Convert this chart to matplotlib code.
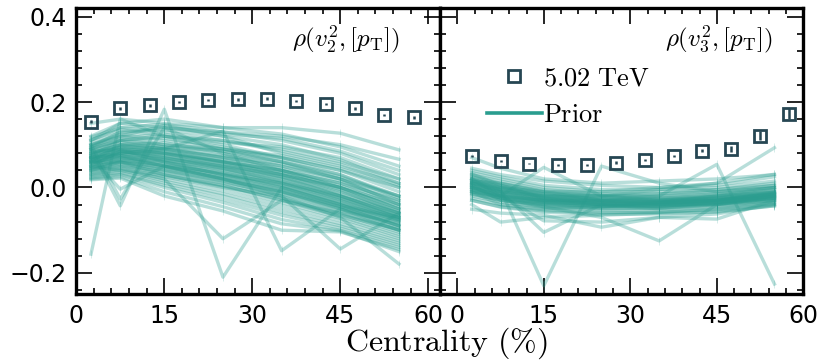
import matplotlib
matplotlib.use('Agg')
import matplotlib.pyplot as plt
from matplotlib.ticker import MultipleLocator
from matplotlib.lines import Line2D
import numpy as np

plt.rcParams['mathtext.fontset'] = 'cm'
plt.rcParams['font.family'] = ['DejaVu Sans']

# ---------------- data ----------------
cent_data = [2.5, 7.5, 12.5, 17.5, 22.5, 27.5, 32.5, 37.5, 42.5, 47.5, 52.5, 57.5]
rho2_data = [0.154, 0.185, 0.192, 0.200, 0.205, 0.206, 0.208, 0.202, 0.195, 0.185, 0.170, 0.164]
rho2_err = [0.003, 0.003, 0.003, 0.003, 0.003, 0.003, 0.003, 0.003, 0.003, 0.003, 0.003, 0.003]
rho3_data = [0.074, 0.062, 0.056, 0.053, 0.053, 0.058, 0.064, 0.074, 0.086, 0.091, 0.121, 0.173]
rho3_err = [0.002, 0.002, 0.002, 0.002, 0.002, 0.003, 0.003, 0.003, 0.004, 0.007, 0.010, 0.013]

cent_model = [2.5, 7.5, 15, 25, 35, 45, 55]
prior_err = [0.010, 0.010, 0.010, 0.010, 0.010, 0.010, 0.010]

prior_rho2 = [
    [0.150, 0.160, 0.150, 0.140, 0.140, 0.127, 0.088],
    [0.120, 0.150, 0.140, 0.130, 0.120, 0.100, 0.066],
    [0.110, 0.140, 0.130, 0.110, 0.090, 0.060, 0.020],
    [0.100, 0.120, 0.145, 0.120, 0.080, 0.050, 0.010],
    [0.090, 0.110, 0.100, 0.090, 0.070, 0.040, 0.000],
    [0.080, 0.100, 0.090, 0.070, 0.050, 0.020, -0.020],
    [0.070, 0.090, 0.080, 0.060, 0.040, 0.010, -0.030],
    [0.060, 0.080, 0.070, 0.050, 0.030, 0.000, -0.040],
    [0.118, 0.140, 0.148, 0.130, 0.110, 0.080, 0.030],
    [0.112, 0.135, 0.120, 0.105, 0.095, 0.070, 0.020],
    [0.105, 0.128, 0.135, 0.120, 0.100, 0.065, 0.010],
    [0.100, 0.125, 0.110, 0.090, 0.075, 0.045, 0.000],
    [0.098, 0.118, 0.125, 0.100, 0.070, 0.040, -0.010],
    [0.095, 0.120, 0.100, 0.085, 0.060, 0.030, -0.020],
    [0.092, 0.110, 0.095, 0.075, 0.055, 0.020, -0.030],
    [0.090, 0.112, 0.115, 0.095, 0.068, 0.030, -0.025],
    [0.088, 0.105, 0.090, 0.070, 0.040, 0.010, -0.040],
    [0.085, 0.100, 0.105, 0.080, 0.050, 0.015, -0.035],
    [0.082, 0.098, 0.085, 0.060, 0.030, 0.000, -0.050],
    [0.080, 0.095, 0.092, 0.072, 0.045, 0.005, -0.045],
    [0.078, 0.092, 0.080, 0.055, 0.025, -0.010, -0.055],
    [0.075, 0.090, 0.088, 0.065, 0.035, -0.005, -0.060],
    [0.072, 0.088, 0.075, 0.048, 0.020, -0.020, -0.065],
    [0.070, 0.085, 0.070, 0.045, 0.015, -0.025, -0.070],
    [0.068, 0.082, 0.078, 0.058, 0.030, -0.015, -0.060],
    [0.066, 0.080, 0.065, 0.040, 0.010, -0.030, -0.075],
    [0.064, 0.078, 0.068, 0.050, 0.022, -0.020, -0.068],
    [0.062, 0.075, 0.060, 0.035, 0.005, -0.035, -0.080],
    [0.060, 0.072, 0.058, 0.030, 0.000, -0.040, -0.085],
    [0.058, 0.070, 0.062, 0.042, 0.012, -0.028, -0.072],
    [0.055, 0.068, 0.050, 0.025, -0.005, -0.045, -0.090],
    [0.053, 0.065, 0.055, 0.032, 0.002, -0.038, -0.078],
    [0.050, 0.062, 0.045, 0.020, -0.012, -0.050, -0.095],
    [0.048, 0.060, 0.040, 0.015, -0.020, -0.058, -0.100],
    [0.046, 0.058, 0.048, 0.022, -0.008, -0.048, -0.088],
    [0.044, 0.055, 0.035, 0.010, -0.025, -0.062, -0.105],
    [0.042, 0.052, 0.030, 0.005, -0.030, -0.068, -0.110],
    [0.040, 0.050, 0.038, 0.012, -0.015, -0.055, -0.082],
    [0.038, 0.048, 0.025, 0.000, -0.035, -0.072, -0.115],
    [0.035, 0.045, 0.020, -0.008, -0.042, -0.078, -0.120],
    [0.032, 0.042, 0.028, 0.004, -0.028, -0.065, -0.098],
    [0.030, 0.040, 0.015, -0.015, -0.050, -0.085, -0.125],
    [0.028, 0.035, 0.010, -0.020, -0.058, -0.090, -0.130],
    [0.025, 0.032, 0.005, -0.028, -0.065, -0.095, -0.135],
    [0.022, 0.030, 0.000, -0.035, -0.075, -0.100, -0.140],
    [0.020, 0.025, -0.010, -0.045, -0.085, -0.102, -0.150],
    [0.018, 0.022, -0.020, -0.055, -0.100, -0.104, -0.145],
    [0.110, 0.150, 0.160, 0.140, 0.125, 0.095, 0.050],
    [0.095, 0.130, 0.140, 0.125, 0.115, 0.085, 0.040],
    [0.075, 0.110, 0.120, 0.110, 0.085, 0.055, 0.005],
    [0.062, 0.100, 0.095, 0.085, 0.060, 0.025, -0.020],
    [0.050, 0.085, 0.080, 0.060, 0.040, 0.000, -0.050],
    [0.085, 0.088, 0.060, 0.030, 0.010, -0.020, -0.060],
    [0.070, 0.075, 0.050, 0.028, -0.002, -0.042, -0.070],
    [0.058, 0.060, 0.042, 0.018, -0.010, -0.045, -0.075],
    [0.076, 0.094, 0.082, 0.062, 0.032, -0.008, -0.058],
    [0.066, 0.084, 0.072, 0.052, 0.024, -0.018, -0.066],
    [0.056, 0.074, 0.064, 0.044, 0.014, -0.026, -0.070],
    [0.046, 0.064, 0.052, 0.034, 0.006, -0.034, -0.076],
    [-0.156, 0.160, 0.120, 0.090, 0.060, 0.020, -0.040],
    [0.090, -0.043, 0.183, -0.210, 0.000, -0.040, -0.090],
    [0.050, 0.040, 0.020, -0.120, -0.030, -0.060, -0.100],
    [0.070, 0.080, 0.090, 0.132, -0.148, -0.050, -0.100],
    [0.040, 0.060, 0.030, 0.000, -0.020, -0.144, -0.060],
    [0.060, 0.070, 0.050, 0.020, -0.020, -0.070, -0.179],
    [0.100, -0.027, 0.140, 0.080, 0.040, 0.000, -0.050],
    [0.070, -0.004, 0.050, 0.020, -0.010, -0.050, -0.090],
]

prior_rho3 = [
    [0.070, 0.045, 0.020, 0.010, 0.015, 0.020, 0.030],
    [0.040, 0.025, 0.005, -0.005, -0.005, 0.000, 0.015],
    [0.035, 0.020, 0.000, -0.010, -0.010, -0.005, 0.010],
    [0.030, 0.015, -0.005, -0.015, -0.015, -0.010, 0.005],
    [0.028, 0.010, -0.008, -0.018, -0.020, -0.012, 0.000],
    [0.025, 0.008, -0.012, -0.020, -0.022, -0.015, -0.002],
    [0.022, 0.005, -0.015, -0.022, -0.024, -0.018, -0.005],
    [0.020, 0.002, -0.018, -0.025, -0.026, -0.020, -0.008],
    [0.018, 0.000, -0.020, -0.027, -0.028, -0.022, -0.010],
    [0.015, -0.002, -0.022, -0.029, -0.030, -0.024, -0.012],
    [0.012, -0.005, -0.024, -0.031, -0.031, -0.026, -0.014],
    [0.010, -0.007, -0.026, -0.032, -0.032, -0.027, -0.015],
    [0.008, -0.009, -0.027, -0.033, -0.033, -0.028, -0.016],
    [0.006, -0.011, -0.028, -0.034, -0.034, -0.029, -0.017],
    [0.004, -0.013, -0.029, -0.035, -0.035, -0.030, -0.018],
    [0.002, -0.015, -0.030, -0.036, -0.036, -0.031, -0.020],
    [0.000, -0.017, -0.031, -0.037, -0.037, -0.032, -0.022],
    [-0.002, -0.019, -0.032, -0.038, -0.038, -0.033, -0.023],
    [-0.005, -0.021, -0.034, -0.040, -0.040, -0.035, -0.025],
    [-0.008, -0.023, -0.036, -0.042, -0.042, -0.037, -0.027],
    [-0.010, -0.025, -0.038, -0.044, -0.044, -0.039, -0.029],
    [-0.013, -0.027, -0.040, -0.046, -0.046, -0.041, -0.031],
    [-0.016, -0.030, -0.043, -0.049, -0.049, -0.044, -0.034],
    [-0.020, -0.034, -0.047, -0.053, -0.053, -0.048, -0.037],
    [-0.025, -0.040, -0.052, -0.058, -0.058, -0.052, -0.040],
    [-0.030, -0.046, -0.058, -0.063, -0.062, -0.056, -0.043],
    [0.045, 0.030, 0.015, 0.005, 0.000, 0.005, 0.025],
    [0.032, 0.005, -0.025, -0.040, -0.045, -0.035, -0.020],
    [0.015, 0.010, -0.010, -0.030, -0.040, -0.040, -0.030],
    [-0.010, -0.040, -0.050, -0.045, -0.035, -0.020, 0.000],
    [0.005, -0.030, -0.045, -0.050, -0.048, -0.038, -0.025],
    [-0.030, -0.045, -0.055, -0.060, -0.058, -0.050, -0.035],
    [-0.040, -0.081, -0.070, -0.065, -0.060, -0.058, -0.043],
    [0.020, -0.020, -0.078, -0.081, -0.070, -0.062, -0.040],
    [-0.051, -0.060, -0.065, -0.093, -0.070, -0.074, -0.030],
    [0.010, -0.010, -0.105, -0.040, -0.050, -0.040, -0.025],
    [0.010, -0.005, -0.230, 0.050, 0.010, -0.010, 0.000],
    [0.000, -0.020, 0.047, -0.020, -0.030, -0.020, -0.010],
    [-0.005, -0.025, -0.045, -0.070, -0.125, -0.040, -0.020],
    [-0.010, -0.020, -0.030, -0.030, -0.020, 0.054, -0.226],
    [0.000, -0.010, -0.020, -0.020, -0.005, 0.010, 0.093],
    [0.010, 0.000, -0.010, -0.010, 0.000, 0.010, 0.031],
    [0.020, 0.000, -0.015, -0.020, -0.015, -0.005, 0.005],
    [-0.015, -0.030, -0.040, -0.045, -0.040, -0.030, -0.015],
    [0.000, -0.020, -0.035, -0.040, -0.038, -0.030, -0.012],
    [0.012, -0.008, -0.022, -0.030, -0.034, -0.030, -0.018],
    [0.004, -0.016, -0.032, -0.040, -0.041, -0.035, -0.021],
    [-0.006, -0.024, -0.037, -0.043, -0.043, -0.036, -0.024],
    [0.016, -0.004, -0.019, -0.028, -0.029, -0.025, -0.011],
]

labels = [r'$\rho(v_2^2,[p_{\mathrm{T}}])$', r'$\rho(v_3^2,[p_{\mathrm{T}}])$']

# ---------------- style ----------------
C_LINE = '#2a9d8f'
C_DATA = '#264653'

fig = plt.figure(figsize=(8.22, 3.62), dpi=100)
W, H = 822.0, 362.0
bottom = 1 - 294.3 / H
height = (294.3 - 8.0) / H
ax1 = fig.add_axes([76.3 / W, bottom, 363.7 / W, height])
ax2 = fig.add_axes([440.0 / W, bottom, 363.3 / W, height], sharey=ax1)

for ax, prior, cd, rd, re_, lab, lx in [
        (ax1, prior_rho2, cent_data, rho2_data, rho2_err, labels[0], 0.89),
        (ax2, prior_rho3, cent_data, rho3_data, rho3_err, labels[1], 0.917)]:
    for curve in prior:
        ax.errorbar(cent_model, curve, yerr=prior_err, color=C_LINE, alpha=0.33,
                    lw=2.4, elinewidth=0.4, capsize=0, zorder=2)
    ax.errorbar(cd, rd, yerr=re_, fmt='s', ms=8.8, mfc='none', mec=C_DATA, mew=2.0,
                ecolor=C_DATA, elinewidth=1.8, capsize=0, zorder=5, clip_on=False)
    ax.text(lx, 0.89, lab, transform=ax.transAxes, ha='right', va='center', fontsize=18)
    ax.xaxis.set_major_locator(MultipleLocator(15))
    ax.xaxis.set_minor_locator(MultipleLocator(3))
    ax.yaxis.set_major_locator(MultipleLocator(0.2))
    ax.yaxis.set_minor_locator(MultipleLocator(0.04))
    ax.tick_params(which='both', direction='in', top=True, right=True, width=1.2)
    ax.tick_params(which='major', length=11.5, labelsize=17, pad=7)
    ax.tick_params(which='minor', length=4.5)
    for s in ax.spines.values():
        s.set_linewidth(2.4)

ax1.set_xlim(0, 62)
ax2.set_xlim(-3, 60)
ax1.set_ylim(-0.25, 0.42)
ax2.tick_params(labelleft=False)

handles = [Line2D([], [], marker='s', ls='none', mfc='none', mec=C_DATA, mew=2.0, ms=8.8),
           Line2D([], [], color=C_LINE, lw=2.6)]
ax2.legend(handles, [r'$\mathrm{5.02\ TeV}$', r'$\mathrm{Prior}$'], loc='upper left',
           bbox_to_anchor=(0.1285, 0.80), frameon=False, fontsize=19, handlelength=2.1,
           handletextpad=0.05, labelspacing=0.4, borderpad=0, borderaxespad=0)

fig.text(446 / W, 0.002, r'$\mathrm{Centrality\ (\%)}$', ha='center', va='bottom', fontsize=23)

fig.savefig('out.png', dpi=100)
